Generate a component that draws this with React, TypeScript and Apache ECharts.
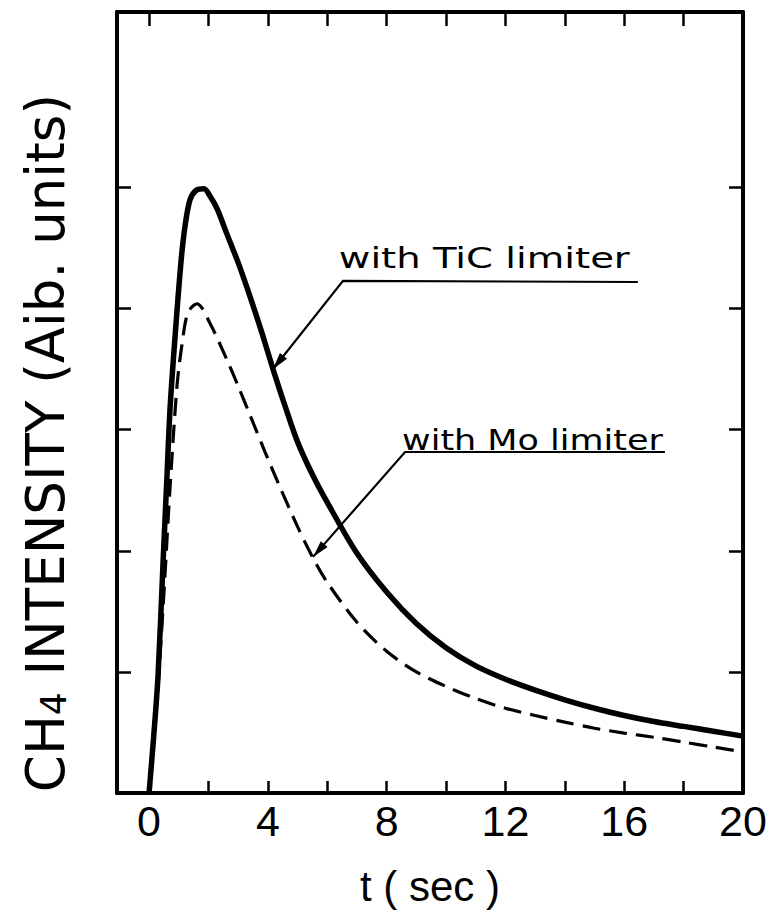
import React, { useEffect, useRef } from "react";
import * as echarts from "echarts";

// TiC limiter (solid) — time (sec) and intensity (arb. units)
const tTiC = [0, 0.15, 0.3, 0.47, 0.6, 0.71, 0.9, 1.08, 1.21, 1.38, 1.6, 1.85, 2.05, 2.3, 2.6, 3.0, 3.4, 3.8, 4.2, 4.6, 5.0, 5.5, 6, 7, 8, 9, 10, 11, 12, 13, 14, 15, 16, 17, 18, 19, 20];
const vTiC = [0, 0.45, 0.96, 1.9, 2.6, 3.19, 3.85, 4.4, 4.68, 4.9, 4.98, 4.99, 4.93, 4.82, 4.63, 4.38, 4.1, 3.8, 3.48, 3.18, 2.9, 2.63, 2.4, 1.98, 1.66, 1.4, 1.2, 1.05, 0.94, 0.85, 0.77, 0.7, 0.64, 0.59, 0.55, 0.51, 0.47];

// Mo limiter (dashed)
const tMo = [0, 0.25, 0.5, 0.7, 0.94, 1.1, 1.31, 1.62, 2.05, 2.6, 3.0, 3.4, 3.9, 4.4, 5.0, 5.5, 6, 7, 8, 9, 10, 11, 12, 13, 14, 15, 16, 17, 18, 19, 20];
const vMo = [0, 0.7, 1.65, 2.5, 3.36, 3.69, 3.97, 4.04, 3.88, 3.59, 3.36, 3.12, 2.82, 2.53, 2.2, 1.95, 1.74, 1.41, 1.17, 1.0, 0.88, 0.78, 0.7, 0.64, 0.585, 0.535, 0.495, 0.46, 0.42, 0.38, 0.34];

const xLabelValues = [0, 4, 8, 12, 16, 20];
const xBottomTicks = [2, 4, 6, 8, 10, 12, 14, 16, 18];
const xTopTicks = [0, 2, 4, 6, 8, 10, 12, 14, 16, 18];
const yTicks = [1, 2, 3, 4, 5];

const xName = "t ( sec )";
const yNameMain = " INTENSITY (Aib. units)";

// annotation anchors, in data coordinates
const annTiC = { text: "with TiC limiter", textStart: [6.39, 4.33], textEndX: 16.19, lineStart: [6.53, 4.23], lineEnd: [16.46, 4.22], tip: [4.17, 3.5] };
const annMo = { text: "with Mo limiter", textStart: [8.52, 2.83], textEndX: 17.3, lineStart: [8.62, 2.816], lineEnd: [17.37, 2.816], tip: [5.52, 1.95] };

export default function App() {
  const ref = useRef<HTMLDivElement>(null);
  useEffect(() => {
    const el = ref.current!;
    const chart = echarts.init(el, null, { renderer: "svg" });
    const axisLineStyle = { color: "#000", width: 4 };
    const tickStyle = { color: "#000", width: 2.5 };
    const xCommon = { type: "value", min: -1.08, max: 20, splitLine: { show: false } };
    const yCommon = { type: "value", min: 0, max: 6.45, splitLine: { show: false }, axisLabel: { show: false } };
    chart.setOption({
      animation: false,
      backgroundColor: "#fff",
      grid: { left: 117, right: 29, top: 12, bottom: 119, show: false },
      xAxis: [
        {
          ...xCommon,
          position: "bottom",
          axisLine: { show: true, onZero: false, lineStyle: axisLineStyle },
          axisTick: { show: true, inside: true, length: 12, lineStyle: tickStyle, customValues: xBottomTicks },
          axisLabel: { show: true, customValues: xLabelValues, fontSize: 43, fontFamily: "Liberation Sans, Arial, sans-serif", color: "#000", margin: 6, showMaxLabel: true, showMinLabel: true },
          name: xName,
          nameLocation: "middle",
          nameGap: 72,
          nameTextStyle: { fontSize: 42, fontFamily: "Liberation Sans, Arial, sans-serif", color: "#000" },
        },
        {
          ...xCommon,
          position: "top",
          axisLine: { show: true, onZero: false, lineStyle: axisLineStyle },
          axisTick: { show: true, inside: true, length: 14, lineStyle: tickStyle, customValues: xTopTicks },
          axisLabel: { show: false },
        },
      ],
      yAxis: [
        {
          ...yCommon,
          position: "left",
          axisLine: { show: true, onZero: false, lineStyle: axisLineStyle },
          axisTick: { show: true, inside: true, length: 14, lineStyle: tickStyle, customValues: yTicks },
        },
        {
          ...yCommon,
          position: "right",
          axisLine: { show: true, onZero: false, lineStyle: axisLineStyle },
          axisTick: { show: true, inside: true, length: 14, lineStyle: tickStyle, customValues: yTicks },
        },
      ],
      series: [
        {
          name: "with TiC limiter",
          type: "line",
          xAxisIndex: 0,
          yAxisIndex: 0,
          data: tTiC.map((t, i) => [t, vTiC[i]]),
          showSymbol: false,
          smooth: 0.3,
          lineStyle: { color: "#000", width: 5.5 },
          z: 3,
        },
        {
          name: "with Mo limiter",
          type: "line",
          xAxisIndex: 0,
          yAxisIndex: 0,
          data: tMo.map((t, i) => [t, vMo[i]]),
          showSymbol: false,
          smooth: 0.3,
          lineStyle: { color: "#000", width: 3.2, type: [18, 9] },
          z: 2,
        },
      ],
    });

    const px = (p: number[]) => chart.convertToPixel({ seriesIndex: 0 }, p) as number[];
    const ctx = document.createElement("canvas").getContext("2d")!;
    const annFont = 29;
    const annFamily = "DejaVu Sans, sans-serif";
    const graphics: any[] = [];

    // y-axis title
    graphics.push({
      type: "text",
      x: 45,
      y: 443,
      rotation: Math.PI / 2,
      style: {
        text: "{a|CH}{s|4}{a|" + yNameMain + "}",
        align: "center",
        verticalAlign: "middle",
        fill: "#000",
        rich: {
          a: { fontSize: 53, fontFamily: "DejaVu Sans, sans-serif", fill: "#000" },
          s: { fontSize: 36, fontFamily: "DejaVu Sans, sans-serif", fill: "#000", verticalAlign: "bottom", padding: [12, 0, 0, 0] },
        },
      },
    });

    [annTiC, annMo].forEach((a) => {
      const t = px(a.textStart);
      const tEnd = px([a.textEndX, a.textStart[1]]);
      const s = px(a.lineStart);
      const e = px(a.lineEnd);
      const tip = px(a.tip);
      ctx.font = `${annFont}px ${annFamily}`;
      const w = ctx.measureText(a.text).width;
      const stretch = (tEnd[0] - t[0]) / w;
      graphics.push({
        type: "text",
        x: t[0],
        y: t[1] - annFont * 0.36,
        scaleX: stretch,
        style: { text: a.text, fontSize: annFont, fontFamily: annFamily, fill: "#000", align: "left", verticalAlign: "middle" },
      });
      graphics.push({
        type: "polyline",
        shape: { points: [e, s, tip] },
        style: { stroke: "#000", lineWidth: 2.2, fill: null },
      });
      const dx = tip[0] - s[0];
      const dy = tip[1] - s[1];
      const L = Math.hypot(dx, dy);
      const ux = dx / L;
      const uy = dy / L;
      const bx = tip[0] - ux * 17;
      const by = tip[1] - uy * 17;
      graphics.push({
        type: "polygon",
        shape: { points: [tip, [bx - uy * 4.5, by + ux * 4.5], [bx + uy * 4.5, by - ux * 4.5]] },
        style: { fill: "#000" },
      });
    });
    chart.setOption({ graphic: graphics });
    return () => chart.dispose();
  }, []);
  return <div ref={ref} style={{ position: "fixed", left: 0, top: 0, width: 772, height: 912, background: "#fff" }} />;
}
